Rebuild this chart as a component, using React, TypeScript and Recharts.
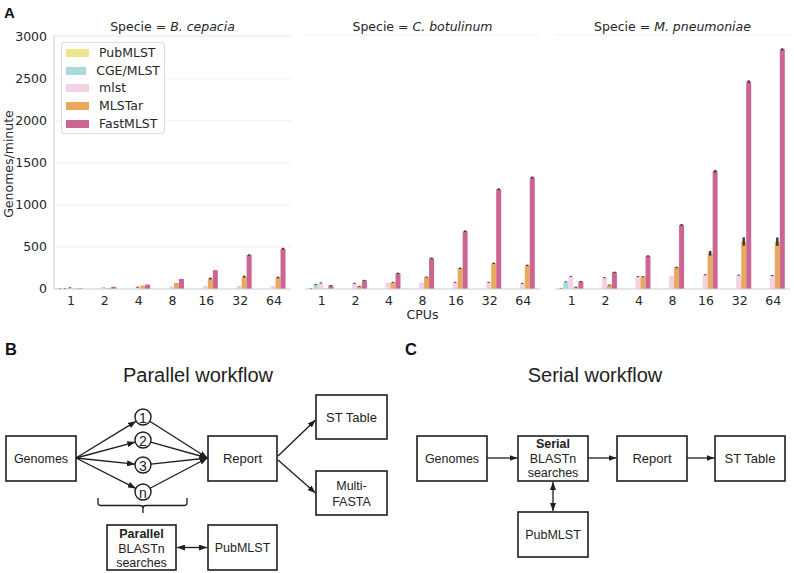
import React from 'react';
import { BarChart, Bar, XAxis, YAxis, CartesianGrid, ErrorBar, Legend } from 'recharts';

const cpus = ['1', '2', '4', '8', '16', '32', '64'];
const seriesNames = ['PubMLST', 'CGE/MLST', 'mlst', 'MLSTar', 'FastMLST'];
const seriesColors = ['#efe58c', '#a6dadb', '#f4d2e5', '#e8a85e', '#cc6591'];
const yTicks = [0, 500, 1000, 1500, 2000, 2500, 3000];

// B. cepacia
const bcPubMLST = [2, null, null, null, null, null, null];
const bcCGE = [4, null, null, null, null, null, null];
const bcMlst = [14, 22, 22, 25, 30, 35, 32];
const bcMLSTar = [3, 8, 38, 70, 125, 148, 137];
const bcFast = [8, 25, 52, 118, 222, 405, 480];
const bcPubErr = [4, null, null, null, null, null, null];
const bcCGEErr = [5, null, null, null, null, null, null];
const bcMlstErr = [6, 1, 6, 1, 1, 1, 1];
const bcMLSTarErr = [1, 1, 1, 1, 10, 10, 10];
const bcFastErr = [1, 1, 1, 1, 2, 8, 10];

// C. botulinum
const cbPubMLST = [3, null, null, null, null, null, null];
const cbCGE = [55, null, null, null, null, null, null];
const cbMlst = [72, 68, 67, 71, 79, 79, 67];
const cbMLSTar = [3, 32, 79, 143, 246, 305, 281];
const cbFast = [42, 103, 186, 365, 686, 1186, 1325];
const cbPubErr = [5, null, null, null, null, null, null];
const cbCGEErr = [6, null, null, null, null, null, null];
const cbMlstErr = [6, 6, 1, 1, 6, 6, 6];
const cbMLSTarErr = [1, 6, 6, 6, 8, 8, 8];
const cbFastErr = [6, 6, 8, 8, 10, 10, 12];

// M. pneumoniae
const mpPubMLST = [8, null, null, null, null, null, null];
const mpCGE = [85, null, null, null, null, null, null];
const mpMlst = [150, 135, 147, 150, 170, 165, 160];
const mpMLSTar = [22, 48, 147, 257, 425, 565, 562];
const mpFast = [90, 198, 393, 762, 1400, 2465, 2850];
const mpPubErr = [5, null, null, null, null, null, null];
const mpCGEErr = [6, null, null, null, null, null, null];
const mpMlstErr = [6, 6, 6, 1, 6, 6, 6];
const mpMLSTarErr = [6, 6, 6, 8, 28, 50, 50];
const mpFastErr = [6, 8, 8, 10, 15, 15, 12];

type Val = number | null;

function buildRows(values: Val[][], errors: Val[][]) {
  return cpus.map((c, i) => {
    const row: Record<string, any> = { cpu: c };
    seriesNames.forEach((_, j) => {
      row['v' + j] = values[j][i];
      row['e' + j] = errors[j][i];
    });
    return row;
  });
}

const bcRows = buildRows(
  [bcPubMLST, bcCGE, bcMlst, bcMLSTar, bcFast],
  [bcPubErr, bcCGEErr, bcMlstErr, bcMLSTarErr, bcFastErr]
);
const cbRows = buildRows(
  [cbPubMLST, cbCGE, cbMlst, cbMLSTar, cbFast],
  [cbPubErr, cbCGEErr, cbMlstErr, cbMLSTarErr, cbFastErr]
);
const mpRows = buildRows(
  [mpPubMLST, mpCGE, mpMlst, mpMLSTar, mpFast],
  [mpPubErr, mpCGEErr, mpMlstErr, mpMLSTarErr, mpFastErr]
);

const FONT = '"DejaVu Sans", sans-serif';
const ARIAL = '"Liberation Sans", Arial, sans-serif';
const TXT = '#262626';
const SPINE = '#d4d4d4';

const LegendBox = () => (
  <div
    style={{
      border: '1px solid #dcdcdc',
      borderRadius: 3,
      background: 'rgba(255,255,255,0.85)',
      padding: '1px 4px 0 4px',
      width: 104,
      height: 92,
      boxSizing: 'border-box',
    }}
  >
    {seriesNames.map((s, j) => (
      <div key={s} style={{ display: 'flex', alignItems: 'center', height: 17.7 }}>
        <span style={{ display: 'inline-block', width: 23, height: 8, background: seriesColors[j], marginRight: 10 }} />
        <span style={{ fontSize: 12.5, fontFamily: FONT, color: TXT, lineHeight: '14px' }}>{s}</span>
      </div>
    ))}
  </div>
);

function Panel(props: {
  rows: any[];
  left: number;
  width: number;
  marginLeft: number;
  marginRight: number;
  showY: boolean;
  showLegend: boolean;
}) {
  const { rows, left, width, marginLeft, marginRight, showY, showLegend } = props;
  return (
    <div style={{ position: 'absolute', left, top: 0 }}>
      <BarChart
        width={width}
        height={330}
        data={rows}
        margin={{ top: 35, right: marginRight, bottom: 11, left: marginLeft }}
        barCategoryGap="10%"
        barGap={0}
      >
        <CartesianGrid vertical={false} stroke="#f0f0f0" strokeWidth={1} />
        <XAxis
          dataKey="cpu"
          height={30}
          interval={0}
          tickLine={false}
          tickSize={0}
          tickMargin={7}
          axisLine={{ stroke: SPINE, strokeWidth: 1.2 }}
          tick={{ fill: TXT, fontSize: 12.5, fontFamily: FONT }}
        />
        <YAxis
          type="number"
          domain={[0, 3020]}
          ticks={yTicks}
          allowDataOverflow
          width={showY ? 54 : 0}
          tickLine={false}
          tickSize={0}
          tickMargin={7}
          axisLine={{ stroke: SPINE, strokeWidth: 1.2 }}
          tick={showY ? { fill: TXT, fontSize: 12.5, fontFamily: FONT } : false}
        />
        {seriesNames.map((s, j) => (
          <Bar key={s} dataKey={'v' + j} name={s} fill={seriesColors[j]} isAnimationActive={false}>
            <ErrorBar dataKey={'e' + j} width={0} strokeWidth={2.4} stroke="#3a3a3a" isAnimationActive={false} />
          </Bar>
        ))}
        {showLegend && (
          <Legend
            layout="vertical"
            align="center"
            verticalAlign="middle"
            content={() => <LegendBox />}
            wrapperStyle={{ left: 61, top: 42, width: 'auto', height: 'auto' }}
          />
        )}
      </BarChart>
    </div>
  );
}

const LINE = '#1e1e1e';

function Box(p: { x: number; y: number; w: number; h: number }) {
  return <rect x={p.x} y={p.y} width={p.w} height={p.h} fill="#fff" stroke={LINE} strokeWidth={1.6} />;
}

function BoxText(p: { x: number; y: number; children: any; bold?: boolean; size?: number }) {
  return (
    <text
      x={p.x}
      y={p.y}
      textAnchor="middle"
      dominantBaseline="central"
      fontFamily={ARIAL}
      fontSize={p.size ?? 12.5}
      fontWeight={p.bold ? 'bold' : 'normal'}
      fill="#222"
    >
      {p.children}
    </text>
  );
}

function Arrow(p: { x1: number; y1: number; x2: number; y2: number; both?: boolean }) {
  return (
    <line
      x1={p.x1}
      y1={p.y1}
      x2={p.x2}
      y2={p.y2}
      stroke={LINE}
      strokeWidth={1.3}
      markerEnd="url(#ah)"
      markerStart={p.both ? 'url(#ahs)' : undefined}
    />
  );
}

const circleYs = [417, 440, 465, 492];
const circleLabels = ['1', '2', '3', 'n'];

function edge(cx: number, cy: number, r: number, tx: number, ty: number) {
  const dx = tx - cx;
  const dy = ty - cy;
  const len = Math.sqrt(dx * dx + dy * dy);
  return [cx + (r * dx) / len, cy + (r * dy) / len];
}

function Diagrams() {
  return (
    <svg width={794} height={573} style={{ position: 'absolute', left: 0, top: 0, pointerEvents: 'none' }}>
      <defs>
        <marker id="ah" markerUnits="userSpaceOnUse" markerWidth={8} markerHeight={6} refX={8} refY={3} orient="auto">
          <path d="M0,0 L8,3 L0,6 z" fill={LINE} />
        </marker>
        <marker id="ahs" markerUnits="userSpaceOnUse" markerWidth={8} markerHeight={6} refX={0} refY={3} orient="auto">
          <path d="M8,0 L0,3 L8,6 z" fill={LINE} />
        </marker>
      </defs>

      {/* Panel A texts */}
      <text x={4} y={17.5} fontFamily={ARIAL} fontWeight="bold" fontSize={15} fill="#111">A</text>
      {[
        { cx: 172.5, name: 'B. cepacia' },
        { cx: 422.5, name: 'C. botulinum' },
        { cx: 672.5, name: 'M. pneumoniae' },
      ].map((t) => (
        <text key={t.name} x={t.cx} y={31} textAnchor="middle" fontFamily={FONT} fontSize={12.5} fill={TXT}>
          Specie = <tspan fontStyle="italic">{t.name}</tspan>
        </text>
      ))}
      <text
        transform="translate(8,164) rotate(-90)"
        textAnchor="middle"
        dominantBaseline="central"
        fontFamily={FONT}
        fontSize={12.5}
        fill={TXT}
      >
        Genomes/minute
      </text>
      <text x={422.5} y={314} textAnchor="middle" dominantBaseline="central" fontFamily={FONT} fontSize={12.5} fill={TXT}>
        CPUs
      </text>

      {/* Panel B */}
      <text x={5} y={355} fontFamily={ARIAL} fontWeight="bold" fontSize={16.5} fill="#111">B</text>
      <text x={198} y={375} textAnchor="middle" dominantBaseline="central" fontFamily={ARIAL} fontSize={20} fill="#222">
        Parallel workflow
      </text>
      <Box x={6} y={436} w={70} h={45} />
      <BoxText x={41} y={458.5}>Genomes</BoxText>
      {circleYs.map((cy, i) => {
        const [sx, sy] = edge(143, cy, 8, 76, 458);
        const [ex, ey] = edge(143, cy, 8, 208, 458);
        return (
          <g key={i}>
            <Arrow x1={76} y1={458} x2={sx} y2={sy} />
            <line x1={ex} y1={ey} x2={207.5} y2={458} stroke={LINE} strokeWidth={1.3} markerEnd="url(#ah)" />
            <circle cx={143} cy={cy} r={8} fill="#fff" stroke={LINE} strokeWidth={1.4} />
            <BoxText x={143} y={cy + 0.5} size={14}>{circleLabels[i]}</BoxText>
          </g>
        );
      })}
      <Box x={208} y={436} w={69} h={45} />
      <BoxText x={242.5} y={458.5} size={13}>Report</BoxText>
      <Box x={316} y={395} w={71} h={44} />
      <BoxText x={351.5} y={417} size={13}>ST Table</BoxText>
      <Box x={316} y={471} w={71} h={44} />
      <BoxText x={351.5} y={486} size={12.5}>Multi-</BoxText>
      <BoxText x={351.5} y={502} size={12.5}>FASTA</BoxText>
      <Arrow x1={278} y1={456} x2={315.5} y2={420} />
      <Arrow x1={278} y1={460} x2={315.5} y2={493} />
      <path
        d="M98,498 L98,503 Q98,505.5 101,505.5 L140,505.5 Q143,505.5 143,508 L143,513 M143,508 Q143,505.5 146,505.5 L184,505.5 Q187,505.5 187,503 L187,498"
        fill="none"
        stroke={LINE}
        strokeWidth={1.3}
      />
      <Box x={107} y={525} w={69} h={45} />
      <BoxText x={141.5} y={533.5} bold>Parallel</BoxText>
      <BoxText x={141.5} y={548.5}>BLASTn</BoxText>
      <BoxText x={141.5} y={563}>searches</BoxText>
      <Box x={208} y={525} w={69} h={45} />
      <BoxText x={242.5} y={547.5}>PubMLST</BoxText>
      <Arrow x1={177} y1={547.5} x2={207} y2={547.5} both />

      {/* Panel C */}
      <text x={405} y={355} fontFamily={ARIAL} fontWeight="bold" fontSize={16.5} fill="#111">C</text>
      <text x={595} y={375} textAnchor="middle" dominantBaseline="central" fontFamily={ARIAL} fontSize={20} fill="#222">
        Serial workflow
      </text>
      <Box x={417} y={436} w={70} h={45} />
      <BoxText x={452} y={458.5}>Genomes</BoxText>
      <Box x={518} y={436} w={70} h={45} />
      <BoxText x={553} y={443.5} bold>Serial</BoxText>
      <BoxText x={553} y={458.5}>BLASTn</BoxText>
      <BoxText x={553} y={472.5}>searches</BoxText>
      <Box x={617} y={436} w={70} h={45} />
      <BoxText x={652} y={458.5} size={13}>Report</BoxText>
      <Box x={715} y={436} w={70} h={45} />
      <BoxText x={750} y={458.5} size={13}>ST Table</BoxText>
      <Arrow x1={487} y1={458} x2={517.5} y2={458} />
      <Arrow x1={588} y1={458} x2={616.5} y2={458} />
      <Arrow x1={687} y1={458} x2={714.5} y2={458} />
      <Box x={518} y={512} w={70} h={45} />
      <BoxText x={553} y={534.5}>PubMLST</BoxText>
      <Arrow x1={553} y1={482} x2={553} y2={511} both />
    </svg>
  );
}

export default function App() {
  return (
    <div style={{ position: 'absolute', left: 0, top: 0, width: 794, height: 573, background: '#fff', overflow: 'hidden' }}>
      <Panel rows={bcRows} left={0} width={300} marginLeft={0} marginRight={9} showY={true} showLegend={true} />
      <Panel rows={cbRows} left={295} width={250} marginLeft={10} marginRight={5} showY={false} showLegend={false} />
      <Panel rows={mpRows} left={545} width={249} marginLeft={10} marginRight={4} showY={false} showLegend={false} />
      <Diagrams />
    </div>
  );
}
